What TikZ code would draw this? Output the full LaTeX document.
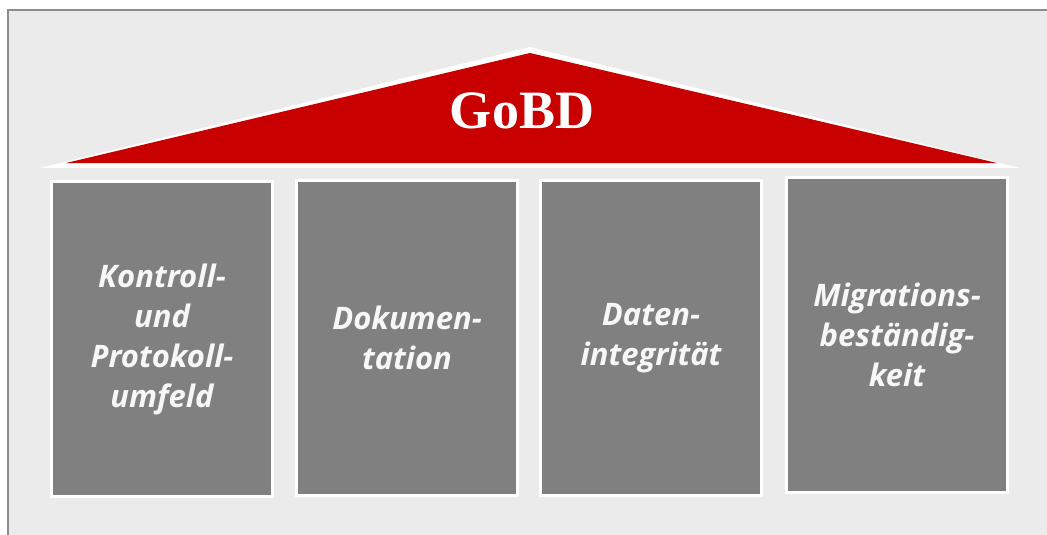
\documentclass[tikz,border=0pt]{standalone}
\usepackage{fontspec}
\setmainfont{Open Sans}
\newfontfamily\rooffont{Liberation Serif}
\definecolor{bgc}{HTML}{EBEBEB}
\definecolor{framec}{HTML}{8C8C8C}
\definecolor{roofred}{HTML}{C80000}
\definecolor{pillarc}{HTML}{808080}
\definecolor{txtc}{HTML}{F7F7F7}
\tikzset{
  pillar/.style={draw=white, line width=3pt, fill=pillarc, minimum width=221pt, minimum height=315pt, inner sep=0pt,
    text=txtc, align=center, font=\fontsize{31}{40}\selectfont\bfseries\itshape},
  rooflabel/.style={text=white, font=\rooffont\fontsize{54}{60}\selectfont\bfseries, inner sep=0pt}
}
\begin{document}
\begin{tikzpicture}[x=1pt,y=-1pt]
\useasboundingbox (0,0) rectangle (1047,535);
\fill[white] (0,0) rectangle (1047,535);
\fill[bgc] (8,10) rectangle (1047,535);
\draw[framec, line width=2pt] (8,540) -- (8,10) -- (1052,10);
% roof
\fill[white] (40,168) -- (530,47) -- (1020,168) -- cycle;
\fill[roofred] (66,163) -- (530,53) -- (997,163) -- cycle;
\node[rooflabel] (gobd) at (522,111) {GoBD};
% pillars
\node[pillar] (p1) at (162,339) {Kontroll-\\und\\Protokoll-\\umfeld};
\node[pillar] (p2) at (407,338) {Dokumen-\\tation};
\node[pillar] (p3) at (651,338) {Daten-\\integrität};
\node[pillar] (p4) at (897,335) {Migrations-\\beständig-\\keit};
\end{tikzpicture}
\end{document}
